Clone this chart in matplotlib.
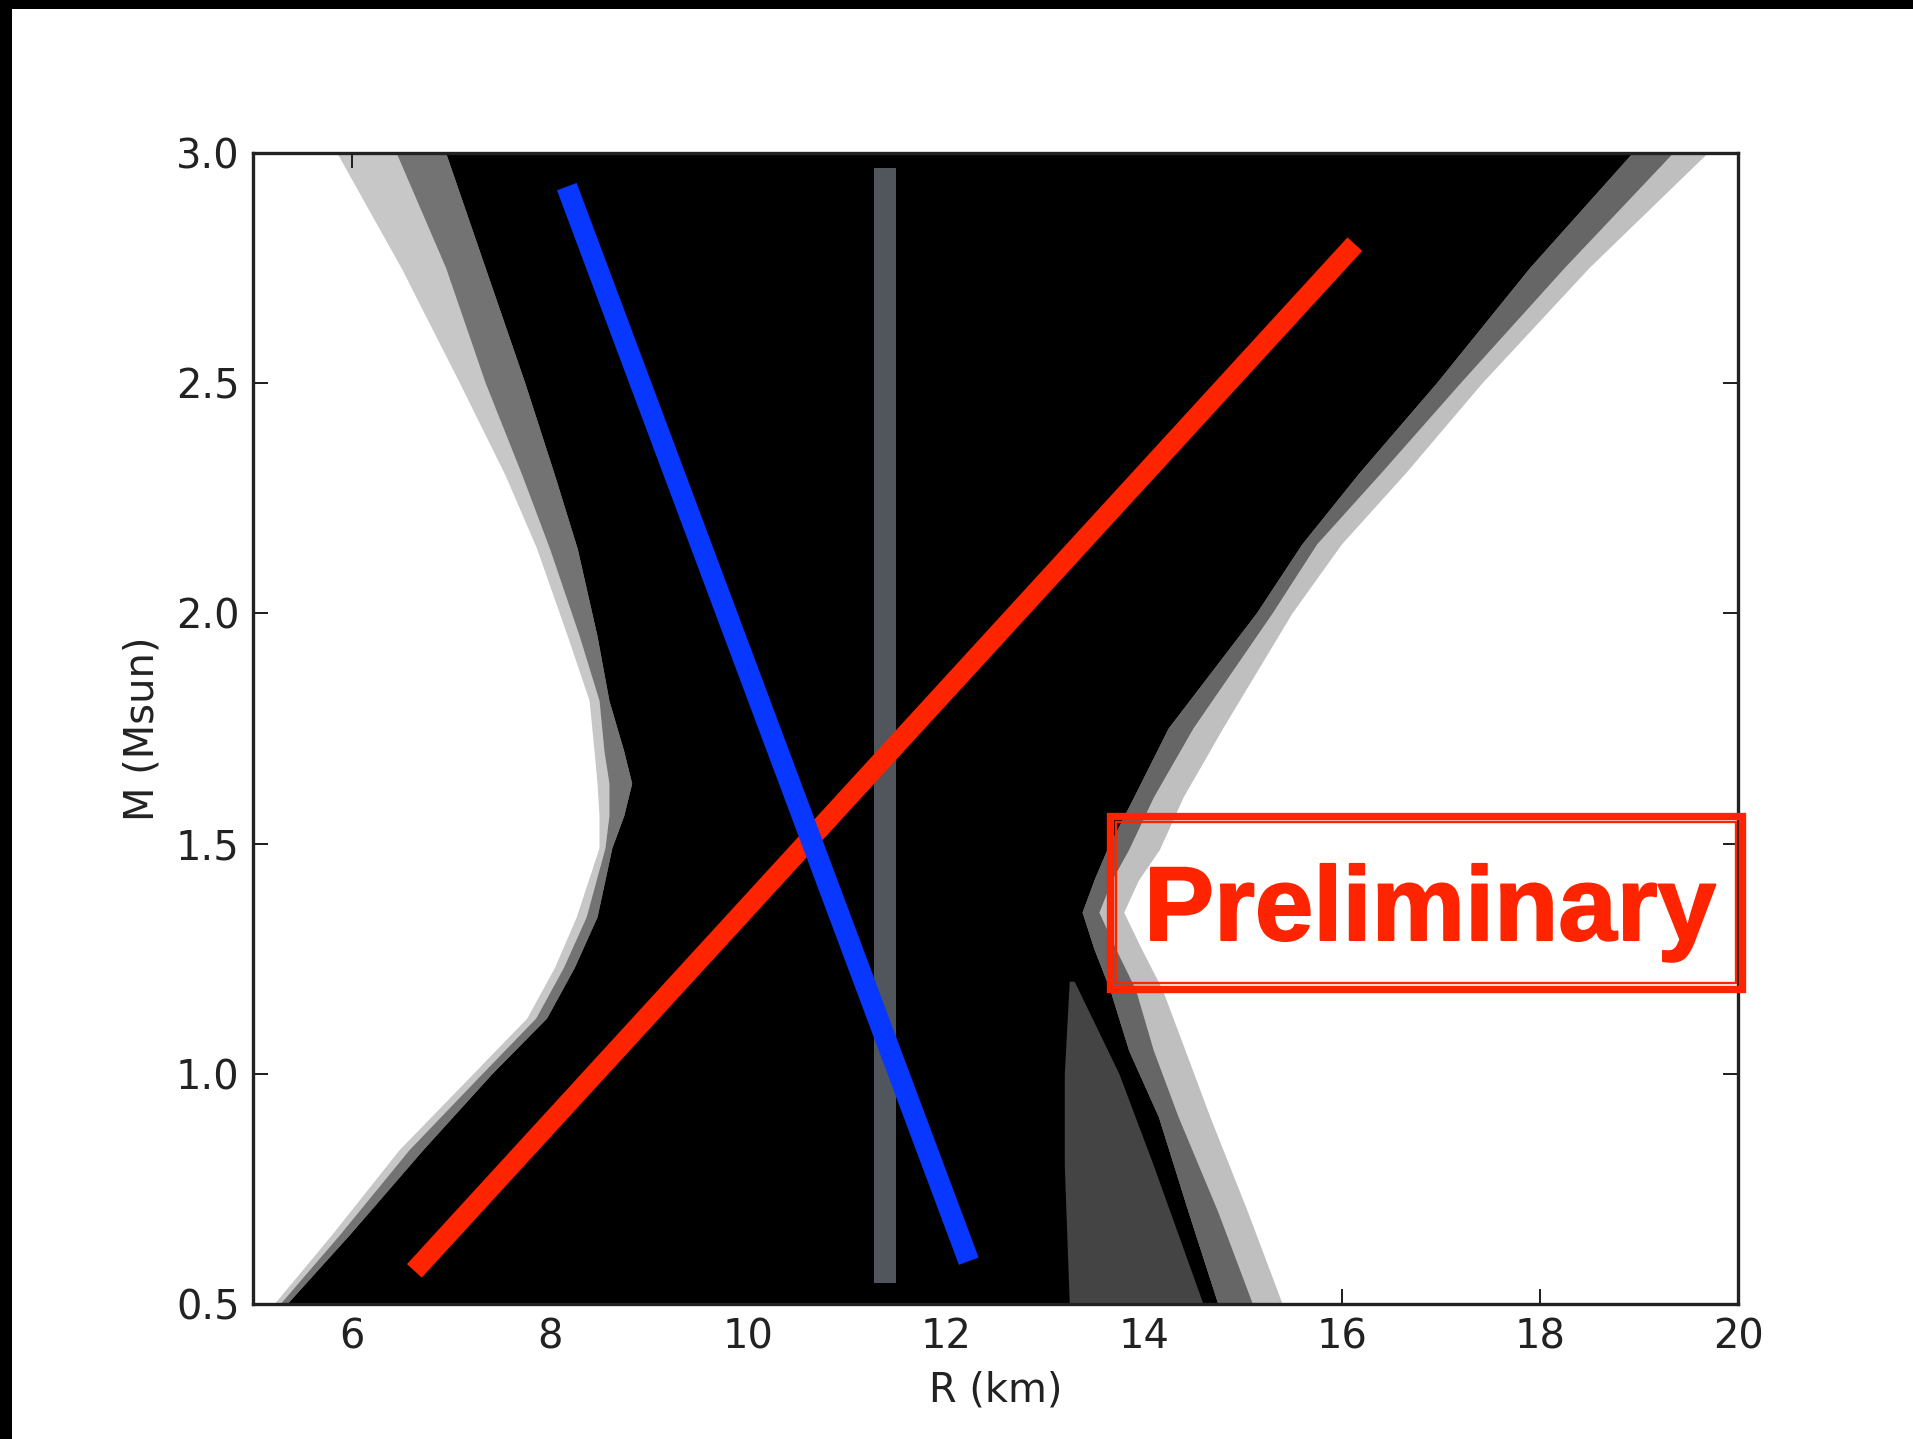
import numpy as np
import matplotlib
matplotlib.use("Agg")
import matplotlib.pyplot as plt
from matplotlib.patches import Rectangle
import matplotlib.patheffects as pe

# ---- envelope of the sampled mass-radius curves (M in Msun, R in km) ----
m_left = [0.5, 0.65, 0.834, 1.0, 1.12, 1.23, 1.34, 1.49, 1.56, 1.63, 1.70,
          1.81, 1.95, 2.14, 2.3, 2.5, 2.75, 3.0]
r_left_outer = [5.22, 5.80, 6.48, 7.23, 7.77, 8.05, 8.27, 8.50, 8.50, 8.48,
                8.45, 8.40, 8.18, 7.87, 7.55, 7.09, 6.50, 5.85]
r_left_mid = [5.28, 5.88, 6.58, 7.32, 7.86, 8.14, 8.37, 8.56, 8.60, 8.60,
              8.55, 8.50, 8.30, 8.00, 7.72, 7.35, 6.95, 6.45]
r_left_core = [5.35, 5.98, 6.72, 7.42, 7.97, 8.25, 8.48, 8.63, 8.75, 8.83,
               8.75, 8.60, 8.48, 8.28, 8.05, 7.75, 7.35, 6.95]

m_right = [0.5, 0.7, 0.906, 1.05, 1.182, 1.27, 1.35, 1.42, 1.486, 1.6,
           1.75, 2.0, 2.15, 2.305, 2.5, 2.75, 3.0]
r_right_outer = [15.40, 15.05, 14.67, 14.42, 14.19, 13.98, 13.80, 13.95,
                 14.16, 14.40, 14.80, 15.50, 16.00, 16.65, 17.42, 18.50, 19.70]
r_right_mid = [15.10, 14.75, 14.35, 14.10, 13.92, 13.72, 13.55, 13.68,
               13.85, 14.10, 14.50, 15.30, 15.75, 16.40, 17.20, 18.25, 19.35]
r_right_core = [14.75, 14.45, 14.15, 13.85, 13.66, 13.50, 13.38, 13.50,
                13.63, 13.90, 14.25, 15.14, 15.60, 16.18, 16.96, 17.90, 18.94]

# sparser low-mass branch inside the right side of the band
m_sparse = [0.5, 0.8, 1.0, 1.2]
r_sparse_lo = [13.25, 13.20, 13.20, 13.25]
r_sparse_hi = [14.60, 14.10, 13.75, 13.30]

# ---- overlaid trend lines ----
blue_r = [8.17, 12.23]
blue_m = [2.927, 0.593]
red_r = [6.63, 16.13]
red_m = [0.572, 2.802]
gray_r = [11.38, 11.38]
gray_m = [0.545, 2.967]

x_ticks = [6, 8, 10, 12, 14, 16, 18, 20]
y_ticks = [0.5, 1.0, 1.5, 2.0, 2.5, 3.0]
x_tick_labels = ["6", "8", "10", "12", "14", "16", "18", "20"]
y_tick_labels = ["0.5", "1.0", "1.5", "2.0", "2.5", "3.0"]

W, H, DPI = 1913, 1439, 240
fig = plt.figure(figsize=(W / DPI, H / DPI), dpi=DPI)
fig.patch.set_facecolor("white")
plt.rcParams["font.family"] = ["DejaVu Sans"]

ax = fig.add_axes([253 / W, (H - 1304) / H, 1485 / W, 1151 / H])
ax.set_xlim(5, 20)
ax.set_ylim(0.5, 3.0)


def band(r_a, r_b, m):
    """Closed polygon between two radius boundaries on a shared mass grid."""
    xs = np.r_[np.asarray(r_a), np.asarray(r_b)[::-1]]
    ys = np.r_[np.asarray(m), np.asarray(m)[::-1]]
    return xs, ys


# faint outer fringes, darker inner fringes
for ra, rb, a in [(r_left_outer, r_left_mid, 0.22), (r_left_mid, r_left_core, 0.55)]:
    xs, ys = band(ra, rb, m_left)
    ax.fill(xs, ys, color="black", alpha=a, lw=0, zorder=1)
for ra, rb, a in [(r_right_outer, r_right_mid, 0.25), (r_right_mid, r_right_core, 0.6)]:
    xs, ys = band(ra, rb, m_right)
    ax.fill(xs, ys, color="black", alpha=a, lw=0, zorder=1)

# solid core of the ensemble
core_x = np.r_[r_left_core, r_right_core[::-1]]
core_y = np.r_[m_left, m_right[::-1]]
ax.fill(core_x, core_y, color="black", lw=0, zorder=2)

# sparse low-mass branch
xs, ys = band(r_sparse_lo, r_sparse_hi, m_sparse)
ax.fill(xs, ys, color="#444444", lw=0, zorder=3)

ax.plot(gray_r, gray_m, color="#51555c", lw=6.6, solid_capstyle="butt", zorder=5)
ax.plot(red_r, red_m, color="#ff2400", lw=6.0, solid_capstyle="butt", zorder=6)
ax.plot(blue_r, blue_m, color="#0838ff", lw=6.3, solid_capstyle="butt", zorder=7)

ax.set_xticks(x_ticks)
ax.set_xticklabels(x_tick_labels)
ax.set_yticks(y_ticks)
ax.set_yticklabels(y_tick_labels)
ax.tick_params(direction="in", top=True, right=True, length=4.5, width=0.6,
               labelsize=12, pad=4, colors="#222222", labelcolor="#222222")
for s in ax.spines.values():
    s.set_linewidth(1.0)
    s.set_color("#222222")
    s.set_zorder(10)
ax.set_xlabel("R (km)", fontsize=12, color="#222222")
ax.set_ylabel("M (Msun)", fontsize=12, color="#222222")

# "Preliminary" stamp
stamp_red = "#ff2400"
fig.add_artist(Rectangle((1110 / W, 1 - 989 / H), 632 / W, 173 / H,
                         transform=fig.transFigure, fill=False,
                         edgecolor=stamp_red, lw=2.2, zorder=20))
fig.add_artist(Rectangle((1116 / W, 1 - 983 / H), 620 / W, 161 / H,
                         transform=fig.transFigure, fill=False,
                         edgecolor=stamp_red, lw=0.7, zorder=20))
fig.text(1430 / W, 1 - 940 / H, "Preliminary", ha="center", va="baseline",
         fontsize=31.5, fontweight="bold", color=stamp_red,
         family=["Liberation Sans", "DejaVu Sans"], zorder=21,
         path_effects=[pe.withStroke(linewidth=0.6, foreground=stamp_red)])

# dark frame on the top and left edges
fig.add_artist(Rectangle((0, 1 - 9 / H), 1, 9 / H, transform=fig.transFigure,
                         color="black", lw=0, zorder=30))
fig.add_artist(Rectangle((0, 0), 12 / W, 1, transform=fig.transFigure,
                         color="black", lw=0, zorder=30))

fig.savefig("out.png", dpi=DPI, facecolor="white")
